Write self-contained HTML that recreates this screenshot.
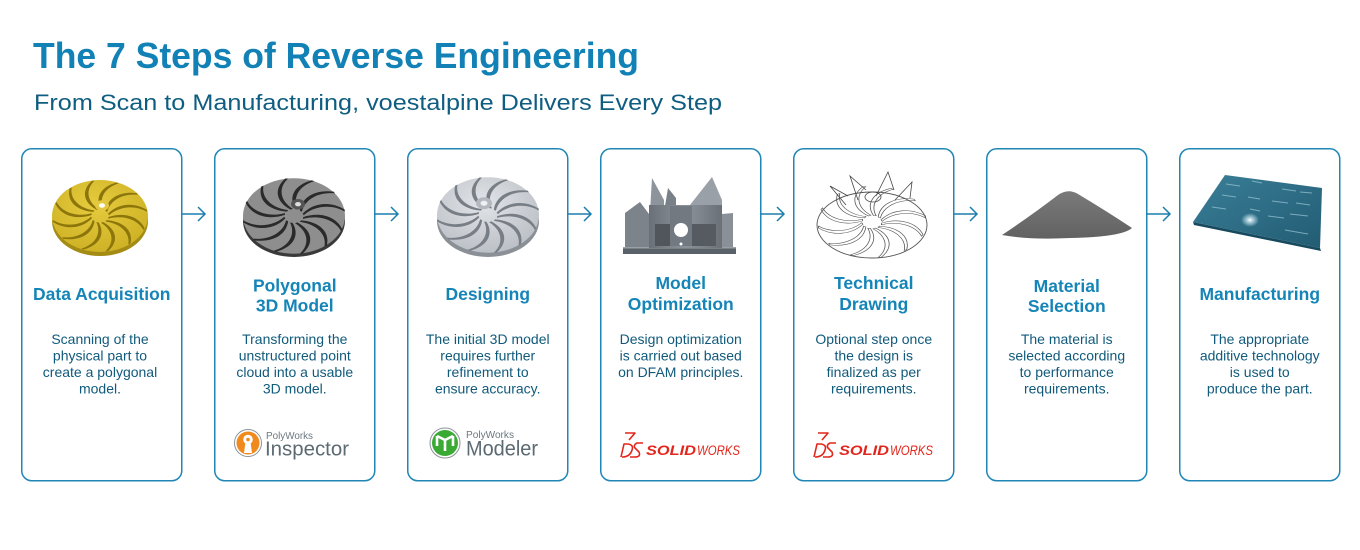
<!DOCTYPE html>
<html>
<head>
<meta charset="utf-8">
<style>
  html,body{margin:0;padding:0;background:#fff;}
  svg{display:block;}
  text{font-family:"Liberation Sans",sans-serif;}
</style>
</head>
<body>
<svg width="1360" height="550" viewBox="0 0 1360 550" xmlns="http://www.w3.org/2000/svg">
  <defs>
    <path id="bl" d="M8,-3 C18,-17 34,-19 47,-8 L47,-5.5 C35,-15 19,-13 9,-1 Z"/>
    <g id="blades">
      <use href="#bl" transform="rotate(0)"/>
      <use href="#bl" transform="rotate(30)"/>
      <use href="#bl" transform="rotate(60)"/>
      <use href="#bl" transform="rotate(90)"/>
      <use href="#bl" transform="rotate(120)"/>
      <use href="#bl" transform="rotate(150)"/>
      <use href="#bl" transform="rotate(180)"/>
      <use href="#bl" transform="rotate(210)"/>
      <use href="#bl" transform="rotate(240)"/>
      <use href="#bl" transform="rotate(270)"/>
      <use href="#bl" transform="rotate(300)"/>
      <use href="#bl" transform="rotate(330)"/>
    </g>
    <linearGradient id="plate" x1="0" y1="0" x2="1" y2="1">
      <stop offset="0" stop-color="#3a7f98"/>
      <stop offset="1" stop-color="#225c73"/>
    </linearGradient>
    <radialGradient id="glow" cx="0.5" cy="0.5" r="0.5">
      <stop offset="0" stop-color="#ffffff" stop-opacity="1"/>
      <stop offset="0.4" stop-color="#cfeaf5" stop-opacity="0.7"/>
      <stop offset="1" stop-color="#cfeaf5" stop-opacity="0"/>
    </radialGradient>
    <linearGradient id="powder" x1="0" y1="0" x2="0" y2="1">
      <stop offset="0" stop-color="#7a7a7a"/>
      <stop offset="1" stop-color="#626262"/>
    </linearGradient>
    <linearGradient id="metal" x1="0" y1="0" x2="1" y2="0">
      <stop offset="0" stop-color="#6a7077"/>
      <stop offset="0.5" stop-color="#8d939a"/>
      <stop offset="1" stop-color="#6a7077"/>
    </linearGradient>
    <radialGradient id="yel" cx="0.45" cy="0.35" r="0.7">
      <stop offset="0" stop-color="#e6cb3e"/>
      <stop offset="1" stop-color="#cdb024"/>
    </radialGradient>
    <radialGradient id="gry" cx="0.45" cy="0.35" r="0.7">
      <stop offset="0" stop-color="#e1e4e8"/>
      <stop offset="1" stop-color="#b9bec4"/>
    </radialGradient>
  </defs>

  <rect width="1360" height="550" fill="#fff"/>

  <!-- Title -->
  <text x="33" y="68" font-size="36" font-weight="bold" fill="#1281b5" textLength="606" lengthAdjust="spacingAndGlyphs">The 7 Steps of Reverse Engineering</text>
  <text x="34" y="110" font-size="22" fill="#0f5d80" textLength="688" lengthAdjust="spacingAndGlyphs">From Scan to Manufacturing, voestalpine Delivers Every Step</text>

  <!-- Cards -->
  <g fill="none" stroke="#1f86b6" stroke-width="1.5">
    <rect x="21.75" y="148.75" width="160" height="332" rx="10"/>
    <rect x="214.75" y="148.75" width="160" height="332" rx="10"/>
    <rect x="407.75" y="148.75" width="160" height="332" rx="10"/>
    <rect x="600.75" y="148.75" width="160" height="332" rx="10"/>
    <rect x="793.75" y="148.75" width="160" height="332" rx="10"/>
    <rect x="986.75" y="148.75" width="160" height="332" rx="10"/>
    <rect x="1179.75" y="148.75" width="160" height="332" rx="10"/>
  </g>

  <!-- Arrows -->
  <g fill="none" stroke="#1a7fae" stroke-width="1.5">
    <path d="M182,214 H205 M198,207 L205,214 L198,221"/>
    <path d="M375,214 H398 M391,207 L398,214 L391,221"/>
    <path d="M568,214 H591 M584,207 L591,214 L584,221"/>
    <path d="M761,214 H784 M777,207 L784,214 L777,221"/>
    <path d="M954,214 H977 M970,207 L977,214 L970,221"/>
    <path d="M1147,214 H1170 M1163,207 L1170,214 L1163,221"/>
  </g>

  <!-- Image 1: yellow impeller -->
  <ellipse cx="100" cy="221" rx="48" ry="35" fill="#a38b14"/>
  <g transform="translate(100,216) scale(1,0.75)">
    <circle r="48" fill="url(#yel)"/>
    <g fill="#8c760c"><use href="#blades"/></g>
    <circle cx="2" cy="-14" r="7" fill="#e2c740"/>
    <circle cx="2" cy="-14" r="3" fill="#fff"/>
  </g>

  <!-- Image 2: mesh impeller -->
  <ellipse cx="294" cy="221" rx="51" ry="36" fill="#3a3a3a"/>
  <g transform="translate(294,216) scale(1,0.74)">
    <circle r="51" fill="#8e8e8e"/>
    <g fill="#2a2a2a" transform="scale(1.08)"><use href="#blades"/></g>
    <circle cx="4" cy="-16" r="7" fill="#555"/>
    <circle cx="4" cy="-16" r="3" fill="#ddd"/>
  </g>

  <!-- Image 3: gray impeller -->
  <ellipse cx="488" cy="221" rx="51" ry="36" fill="#8b9097"/>
  <g transform="translate(488,215) scale(1,0.74)">
    <circle r="51" fill="url(#gry)"/>
    <g fill="#787e85" transform="scale(1.08)"><use href="#blades"/></g>
    <circle cx="-4" cy="-16" r="8" fill="#b2b8be"/>
    <circle cx="-4" cy="-16" r="3.5" fill="#eef0f2"/>
  </g>

  <!-- Image 4: bracket -->
  <g>
    <rect x="623" y="247" width="113" height="7" fill="#5a6067"/>
    <rect x="623" y="247" width="113" height="1.5" fill="#9aa0a6"/>
    <polygon points="625,247 625,213 640,202 649,214 649,247" fill="#7d838a"/>
    <polygon points="722,247 722,214 733,213 733,247" fill="#8a9097"/>
    <polygon points="650,212 652,178 664,200 664,212" fill="#8e949b"/>
    <polygon points="690,205 712,177 722,200 722,214 700,214" fill="#9aa0a7"/>
    <polygon points="664,212 668,188 676,198 676,212" fill="#7a8087"/>
    <rect x="649" y="205" width="73" height="43" fill="url(#metal)"/>
    <rect x="655" y="224" width="17" height="22" fill="#50565c"/>
    <rect x="690" y="224" width="26" height="22" fill="#555b61"/>
    <rect x="670" y="206" width="22" height="40" fill="#737980"/>
    <circle cx="681" cy="230" r="7" fill="#fff"/>
    <circle cx="681" cy="244" r="1.5" fill="#fff"/>
  </g>

  <!-- Image 5: line-art impeller -->
  <ellipse cx="872" cy="225" rx="55" ry="33" fill="#fff" stroke="#555" stroke-width="0.9"/>
  <g transform="translate(872,222) scale(1,0.66)" fill="none" stroke="#555" stroke-width="0.7">
    <g transform="scale(1.14)"><use href="#blades"/></g>
  </g>
  <g fill="none" stroke="#444" stroke-width="0.8">
    <path d="M858,200 L850,176 L866,190"/>
    <path d="M876,196 L888,172 L894,190"/>
    <path d="M895,200 L912,182 L910,198"/>
    <path d="M846,205 L830,186 L848,196"/>
    <ellipse cx="873" cy="197" rx="8" ry="5"/>
  </g>

  <!-- Image 6: powder pile -->
  <path d="M1002,235 Q1032,215 1058,195 Q1068,188 1078,194 Q1108,212 1132,228 Q1122,237 1070,238 Q1030,240 1002,235 Z" fill="url(#powder)"/>

  <!-- Image 7: plate -->
  <polygon points="1193,222 1320,248 1321,251 1194,225" fill="#174a5e"/>
  <polygon points="1225,175 1322,188 1320,248 1193,222" fill="url(#plate)"/>
  <g stroke="#9cc8d8" stroke-width="1" opacity="0.7">
    <line x1="1226" y1="184" x2="1240" y2="186"/>
    <line x1="1252" y1="181" x2="1262" y2="183"/>
    <line x1="1282" y1="189" x2="1296" y2="191"/>
    <line x1="1300" y1="192" x2="1312" y2="193"/>
    <line x1="1222" y1="195" x2="1236" y2="197"/>
    <line x1="1248" y1="197" x2="1260" y2="199"/>
    <line x1="1272" y1="201" x2="1288" y2="203"/>
    <line x1="1296" y1="203" x2="1310" y2="205"/>
    <line x1="1212" y1="207" x2="1226" y2="209"/>
    <line x1="1250" y1="209" x2="1260" y2="211"/>
    <line x1="1268" y1="216" x2="1284" y2="218"/>
    <line x1="1290" y1="214" x2="1308" y2="216"/>
    <line x1="1285" y1="230" x2="1308" y2="234"/>
  </g>
  <ellipse cx="1250" cy="220" rx="9" ry="7" fill="url(#glow)"/>

  <!-- Headings -->
  <g font-size="17.5" font-weight="bold" fill="#1584b7" text-anchor="middle">
    <text x="101.75" y="300">Data Acquisition</text>
    <text x="294.75" y="291.5">Polygonal</text>
    <text x="294.75" y="311.5">3D Model</text>
    <text x="487.75" y="300">Designing</text>
    <text x="680.75" y="289">Model</text>
    <text x="680.75" y="310">Optimization</text>
    <text x="873.75" y="289">Technical</text>
    <text x="873.75" y="310">Drawing</text>
    <text x="1066.75" y="292">Material</text>
    <text x="1066.75" y="312">Selection</text>
    <text x="1259.75" y="300">Manufacturing</text>
  </g>

  <!-- Body -->
  <g font-size="14" fill="#105a7c" text-anchor="middle">
    <text x="100" y="344">Scanning of the</text>
    <text x="100" y="360.5">physical part to</text>
    <text x="100" y="377">create a polygonal</text>
    <text x="100" y="393.5">model.</text>

    <text x="294.75" y="344">Transforming the</text>
    <text x="294.75" y="360.5">unstructured point</text>
    <text x="294.75" y="377">cloud into a usable</text>
    <text x="294.75" y="393.5">3D model.</text>

    <text x="487.75" y="344">The initial 3D model</text>
    <text x="487.75" y="360.5">requires further</text>
    <text x="487.75" y="377">refinement to</text>
    <text x="487.75" y="393.5">ensure accuracy.</text>

    <text x="680.75" y="344">Design optimization</text>
    <text x="680.75" y="360.5">is carried out based</text>
    <text x="680.75" y="377">on DFAM principles.</text>

    <text x="873.75" y="344">Optional step once</text>
    <text x="873.75" y="360.5">the design is</text>
    <text x="873.75" y="377">finalized as per</text>
    <text x="873.75" y="393.5">requirements.</text>

    <text x="1066.75" y="344">The material is</text>
    <text x="1066.75" y="360.5">selected according</text>
    <text x="1066.75" y="377">to performance</text>
    <text x="1066.75" y="393.5">requirements.</text>

    <text x="1259.75" y="344">The appropriate</text>
    <text x="1259.75" y="360.5">additive technology</text>
    <text x="1259.75" y="377">is used to</text>
    <text x="1259.75" y="393.5">produce the part.</text>
  </g>

  <!-- Logo: PolyWorks Inspector -->
  <circle cx="248" cy="443" r="13.5" fill="#fff" stroke="#8a949a" stroke-width="1"/>
  <circle cx="248" cy="443" r="11.5" fill="#f08a1c"/>
  <circle cx="248" cy="439.5" r="4.8" fill="#fff"/>
  <path d="M245.6,441 L244,453 L252,453 L250.4,441 Z" fill="#fff"/>
  <circle cx="248" cy="439.5" r="1.8" fill="#f08a1c"/>
  <text x="266" y="439" font-size="10" fill="#6c7880" textLength="47" lengthAdjust="spacingAndGlyphs">PolyWorks</text>
  <text x="265" y="455.5" font-size="20" fill="#5c6a73" textLength="84" lengthAdjust="spacingAndGlyphs">Inspector</text>

  <!-- Logo: PolyWorks Modeler -->
  <circle cx="445" cy="443" r="15" fill="#fff" stroke="#8a949a" stroke-width="1"/>
  <circle cx="445" cy="443" r="13" fill="#3aaa35"/>
  <g fill="none" stroke="#fff" stroke-width="2.6" stroke-linejoin="round">
    <path d="M437,436 L445,440 L453,436"/>
    <path d="M445,440 L445,451"/>
    <path d="M437,436 L437,446 M453,436 L453,446"/>
  </g>
  <text x="466" y="438" font-size="10" fill="#6c7880" textLength="48" lengthAdjust="spacingAndGlyphs">PolyWorks</text>
  <text x="466" y="455.5" font-size="21" fill="#5c6a73" textLength="72" lengthAdjust="spacingAndGlyphs">Modeler</text>

  <!-- Logo: SOLIDWORKS (card 4) -->
  <g>
    <g fill="none" stroke="#e2261c" stroke-width="1.6" stroke-linejoin="round">
      <path d="M625,433 L635,433 L629,440"/>
      <path d="M621,457 L624,444 L628,444 Q634,445 632,450 Q630,457 622,457"/>
      <path d="M643,443 L637,443 Q633,445 635,448 L639,452 Q641,457 635,457 L630,457"/>
    </g>
    <text x="646" y="455" font-size="13.5" font-weight="bold" font-style="italic" fill="#e2261c" textLength="50" lengthAdjust="spacingAndGlyphs">SOLID</text>
    <text x="697" y="455" font-size="13.5" font-style="italic" fill="#e2261c" textLength="43" lengthAdjust="spacingAndGlyphs">WORKS</text>
  </g>
  <!-- Logo: SOLIDWORKS (card 5) -->
  <g transform="translate(193,0)">
    <g fill="none" stroke="#e2261c" stroke-width="1.6" stroke-linejoin="round">
      <path d="M625,433 L635,433 L629,440"/>
      <path d="M621,457 L624,444 L628,444 Q634,445 632,450 Q630,457 622,457"/>
      <path d="M643,443 L637,443 Q633,445 635,448 L639,452 Q641,457 635,457 L630,457"/>
    </g>
    <text x="646" y="455" font-size="13.5" font-weight="bold" font-style="italic" fill="#e2261c" textLength="50" lengthAdjust="spacingAndGlyphs">SOLID</text>
    <text x="697" y="455" font-size="13.5" font-style="italic" fill="#e2261c" textLength="43" lengthAdjust="spacingAndGlyphs">WORKS</text>
  </g>
</svg>
</body>
</html>
